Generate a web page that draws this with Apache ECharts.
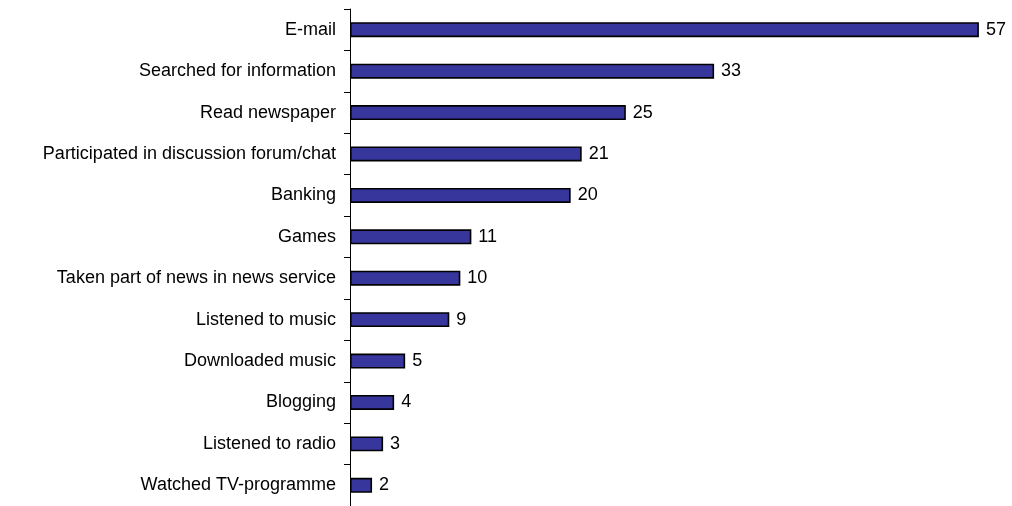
<!DOCTYPE html>
<html>
<head>
<meta charset="utf-8">
<script src="https://cdn.jsdelivr.net/npm/echarts@6/dist/echarts.min.js"></script>
<style>
  html, body { margin: 0; padding: 0; background: #fff; }
  #chart { width: 1012px; height: 506px; }
</style>
</head>
<body>
<div id="chart"></div>
<script>
// Online activities, top to bottom
const categories = [
  'E-mail',
  'Searched for information',
  'Read newspaper',
  'Participated in discussion forum/chat',
  'Banking',
  'Games',
  'Taken part of news in news service',
  'Listened to music',
  'Downloaded music',
  'Blogging',
  'Listened to radio',
  'Watched TV-programme'
];
const values = [57, 33, 25, 21, 20, 11, 10, 9, 5, 4, 3, 2];

const chart = echarts.init(document.getElementById('chart'), null, { renderer: 'canvas' });

chart.setOption({
  animation: false,
  backgroundColor: '#ffffff',
  textStyle: { fontFamily: 'Liberation Sans, Arial, sans-serif' },
  grid: { left: 350, right: -1, top: 9, height: 500, containLabel: false },
  xAxis: {
    type: 'value',
    min: 0,
    max: 60,
    show: false
  },
  yAxis: {
    type: 'category',
    data: categories,
    inverse: true,
    axisLine: { show: true, lineStyle: { color: '#000', width: 1 } },
    axisTick: { show: true, length: 6, lineStyle: { color: '#000', width: 1 } },
    axisLabel: {
      margin: 14,
      color: '#000',
      fontSize: 18,
      fontFamily: 'Liberation Sans, Arial, sans-serif'
    },
    splitLine: { show: false }
  },
  series: [{
    type: 'bar',
    data: values,
    barWidth: 15,
    itemStyle: { color: '#36369c', borderColor: '#000', borderWidth: 1.6 },
    label: {
      show: true,
      position: 'right',
      distance: 7,
      color: '#000',
      fontSize: 18,
      fontFamily: 'Liberation Sans, Arial, sans-serif'
    }
  }]
});
</script>
</body>
</html>
